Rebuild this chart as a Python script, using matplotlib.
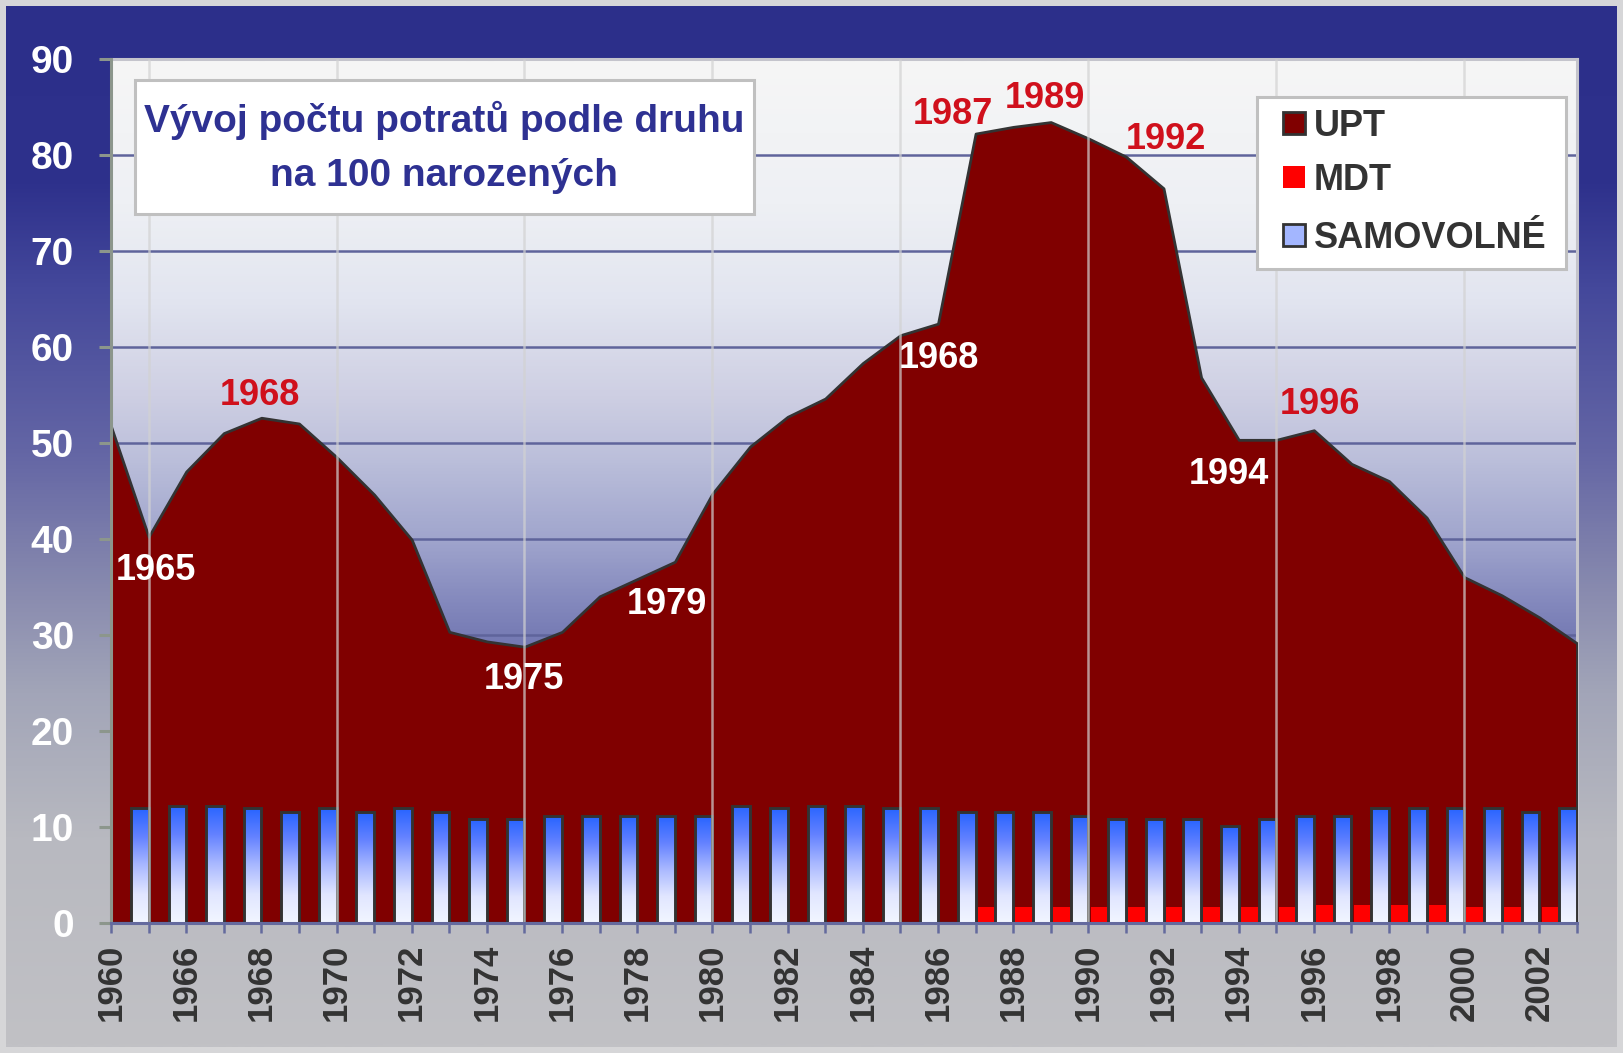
import numpy as np
import matplotlib
matplotlib.use("Agg")
import matplotlib.pyplot as plt
from matplotlib.colors import LinearSegmentedColormap
from matplotlib.patches import Rectangle

plt.rcParams['font.family'] = ['Liberation Sans', 'DejaVu Sans']
plt.rcParams['font.weight'] = 'bold'

# ---------------- data ----------------
years = [1960, 1965, 1966, 1967, 1968, 1969, 1970, 1971, 1972, 1973, 1974,
         1975, 1976, 1977, 1978, 1979, 1980, 1981, 1982, 1983, 1984, 1985,
         1986, 1987, 1988, 1989, 1990, 1991, 1992, 1993, 1994, 1995, 1996,
         1997, 1998, 1999, 2000, 2001, 2002, 2003]

upt = [51.7, 40.2, 47.0, 51.0, 52.6, 52.0, 48.5, 44.6, 39.9, 30.3,
       29.3, 28.75, 30.3, 34.0, 35.8, 37.6, 44.7, 49.6, 52.7, 54.6,
       58.3, 61.2, 62.4, 82.2, 82.9, 83.4, 81.7, 79.8, 76.5, 56.8,
       50.3, 50.3, 51.3, 47.8, 46.0, 42.2, 36.0, 34.1, 31.8, 29.1]

samovolne = [11.9, 12.2, 12.2, 11.9, 11.5, 11.9, 11.5, 11.9, 11.5, 10.8,
             10.8, 11.1, 11.1, 11.1, 11.1, 11.1, 12.2, 11.9, 12.2, 12.2,
             11.9, 11.9, 11.5, 11.5, 11.5, 11.1, 10.8, 10.8, 10.8, 10.1,
             10.8, 11.1, 11.1, 11.9, 11.9, 11.9, 11.9, 11.5, 11.9]

mdt = [0, 0, 0, 0, 0, 0, 0, 0, 0, 0,
       0, 0, 0, 0, 0, 0, 0, 0, 0, 0,
       0, 0, 0, 1.6, 1.6, 1.6, 1.6, 1.6, 1.6, 1.6,
       1.6, 1.6, 1.8, 1.8, 1.8, 1.8, 1.6, 1.6, 1.6]

series_names = ["UPT", "MDT", "SAMOVOLNÉ"]
title_lines = ["Vývoj počtu potratů podle druhu", "na 100 narozených"]

annot_years = [1965, 1968, 1975, 1979, 1986, 1987, 1989, 1992, 1994, 1996]
annot_texts = ["1965", "1968", "1975", "1979", "1968", "1987", "1989", "1992", "1994", "1996"]

# ---------------- styles ----------------
W, H = 1623, 1053
def fx(px):
    return px / W
def fy(py):
    return 1 - py / H

annot_colors = ['white', '#d0101c', 'white', 'white', 'white',
                '#d0101c', '#d0101c', '#d0101c', 'white', '#d0101c']
# offsets in pixels of label centre from the data point (+y = up)
annot_offsets = [(7, -30), (-1, 26), (-1, -29), (-8, -39), (1, -31),
                 (-23, 23), (-6, 27), (2, 52), (-10, -31), (6, 29)]

def cmap_from(stops, name):
    return LinearSegmentedColormap.from_list(
        name, [(p, tuple(c / 255 for c in rgb)) for p, rgb in stops])

cmap_fig = cmap_from([(0.0, (44, 47, 138)), (0.17, (46, 49, 140)),
                      (0.27, (68, 72, 155)), (0.43, (100, 102, 165)),
                      (0.53, (128, 130, 172)), (0.66, (162, 165, 184)),
                      (0.80, (184, 185, 192)), (1.0, (193, 193, 197))], 'figbg')
cmap_plot = cmap_from([(0.0, (100, 105, 165)), (0.311, (112, 117, 176)),
                       (0.367, (130, 135, 188)), (0.444, (160, 165, 205)),
                       (0.533, (186, 190, 218)), (0.611, (206, 207, 227)),
                       (0.722, (226, 229, 240)), (0.833, (238, 240, 244)),
                       (1.0, (246, 246, 246))], 'plotbg')
cmap_bar = cmap_from([(0.0, (242, 246, 255)), (0.25, (225, 230, 255)),
                      (0.5, (170, 185, 255)), (0.75, (100, 130, 255)),
                      (1.0, (40, 100, 255))], 'bar')

grad = np.linspace(0, 1, 512)[:, None]

fig = plt.figure(figsize=(W / 100, H / 100), dpi=100, facecolor='#d6d6d8')

# figure background gradient
bg = fig.add_axes([6 / W, 6 / H, (W - 12) / W, (H - 12) / H])
bg.imshow(grad, cmap=cmap_fig, aspect='auto', extent=[0, 1, 0, 1],
          origin='upper', interpolation='bilinear')
bg.set_axis_off()

# main axes
ax = fig.add_axes([fx(111), fy(922.7), (1577 - 111) / W, (922.7 - 58.7) / H])
ax.set_facecolor('none')
ax.imshow(grad, cmap=cmap_plot, aspect='auto', extent=[0, 1, 0, 1],
          transform=ax.transAxes, origin='lower', zorder=0,
          interpolation='bilinear')

x = np.arange(len(years))

# area UPT
ax.fill_between(x, upt, 0, facecolor='#800000', edgecolor='#333333',
                linewidth=2.0, zorder=3)

# clustered columns (between category points)
xi = np.arange(len(samovolne))
ax.bar(xi + 0.06, mdt, width=0.47, align='edge', color='#ff0000',
       linewidth=0, zorder=4)
blue = ax.bar(xi + 0.53, samovolne, width=0.47, align='edge',
              facecolor='none', edgecolor='#333333', linewidth=2.1, zorder=4.2)
for b in blue:
    x0, w, h = b.get_x(), b.get_width(), b.get_height()
    im = ax.imshow(grad, cmap=cmap_bar, extent=[x0, x0 + w, 0, h],
                   aspect='auto', origin='lower', zorder=4.1,
                   interpolation='bilinear')
    im.set_clip_path(b)

# vertical gridlines every 5 years
grid_x = [i for i, yv in enumerate(years) if yv % 5 == 0 and i > 0]
ax.vlines(grid_x, 0, 90, colors='#d2d2d2', alpha=0.7, linewidth=1.8, zorder=5)

# horizontal grid
ax.set_yticks(range(0, 91, 10))
ax.yaxis.grid(True, color='#5f649b', linewidth=1.8)
ax.set_axisbelow(True)

ax.set_xlim(0, len(years) - 1)
ax.set_ylim(0, 90)

ax.set_xticks(x)
ax.set_xticklabels([str(yv) if i % 2 == 0 else '' for i, yv in enumerate(years)],
                   rotation=90, fontsize=25, color='#333333', fontweight='bold')
ax.tick_params(axis='x', direction='out', length=7.2, width=1.8,
               color='#646a9e', pad=8)
ax.tick_params(axis='y', direction='out', length=8.6, width=2.2,
               color='#8c968c', labelcolor='white', labelsize=28, pad=18)
for lab in ax.get_yticklabels():
    lab.set_fontweight('bold')

ax.spines['left'].set_color('#8c968c')
ax.spines['left'].set_linewidth(2.2)
ax.spines['left'].set_zorder(6)
ax.spines['bottom'].set_color('#646a9e')
ax.spines['bottom'].set_linewidth(2.2)
ax.spines['bottom'].set_zorder(6)
for s in ('top', 'right'):
    ax.spines[s].set_color('#c4c4cc')
    ax.spines[s].set_linewidth(2.2)
    ax.spines[s].set_zorder(2)

# data labels
for yr, txt, col, (dx, dy) in zip(annot_years, annot_texts, annot_colors, annot_offsets):
    i = years.index(yr)
    ax.annotate(txt, xy=(x[i], upt[i]), xytext=(dx, dy - 13),
                textcoords='offset pixels', ha='center', va='baseline',
                fontsize=26, fontweight='bold', color=col, zorder=7,
                annotation_clip=False)

# title box
fig.add_artist(Rectangle((fx(134.5), fy(214.2)), (753.5 - 134.5) / W,
                         (214.2 - 79.7) / H, transform=fig.transFigure,
                         facecolor='white', edgecolor='#c0c0c0', linewidth=2.2,
                         zorder=10))
for line, base in zip(title_lines, (132, 186)):
    fig.text(fx(444), fy(base), line, ha='center', va='baseline', fontsize=28,
             color='#2e3192', fontweight='bold', zorder=11)

# legend box (manual)
fig.add_artist(Rectangle((fx(1257), fy(269)), (1566 - 1257) / W, (269 - 97) / H,
                         transform=fig.transFigure, facecolor='white',
                         edgecolor='#c0c0c0', linewidth=2.2, zorder=10))
leg_face = ['#800000', '#ff0000', '#a3b6ff']
leg_edge = ['#333333', 'none', '#333333']
for name, yc, fc, ec in zip(series_names, (123, 177, 235), leg_face, leg_edge):
    fig.add_artist(Rectangle((fx(1283), fy(yc + 11)), 22 / W, 22 / H,
                             transform=fig.transFigure, facecolor=fc,
                             edgecolor=ec, linewidth=2.0, zorder=11))
    fig.text(fx(1314), fy(yc + 13), name, ha='left', va='baseline', fontsize=26,
             color='#333333', fontweight='bold', zorder=11)

fig.savefig('out.png', dpi=100, facecolor=fig.get_facecolor())
